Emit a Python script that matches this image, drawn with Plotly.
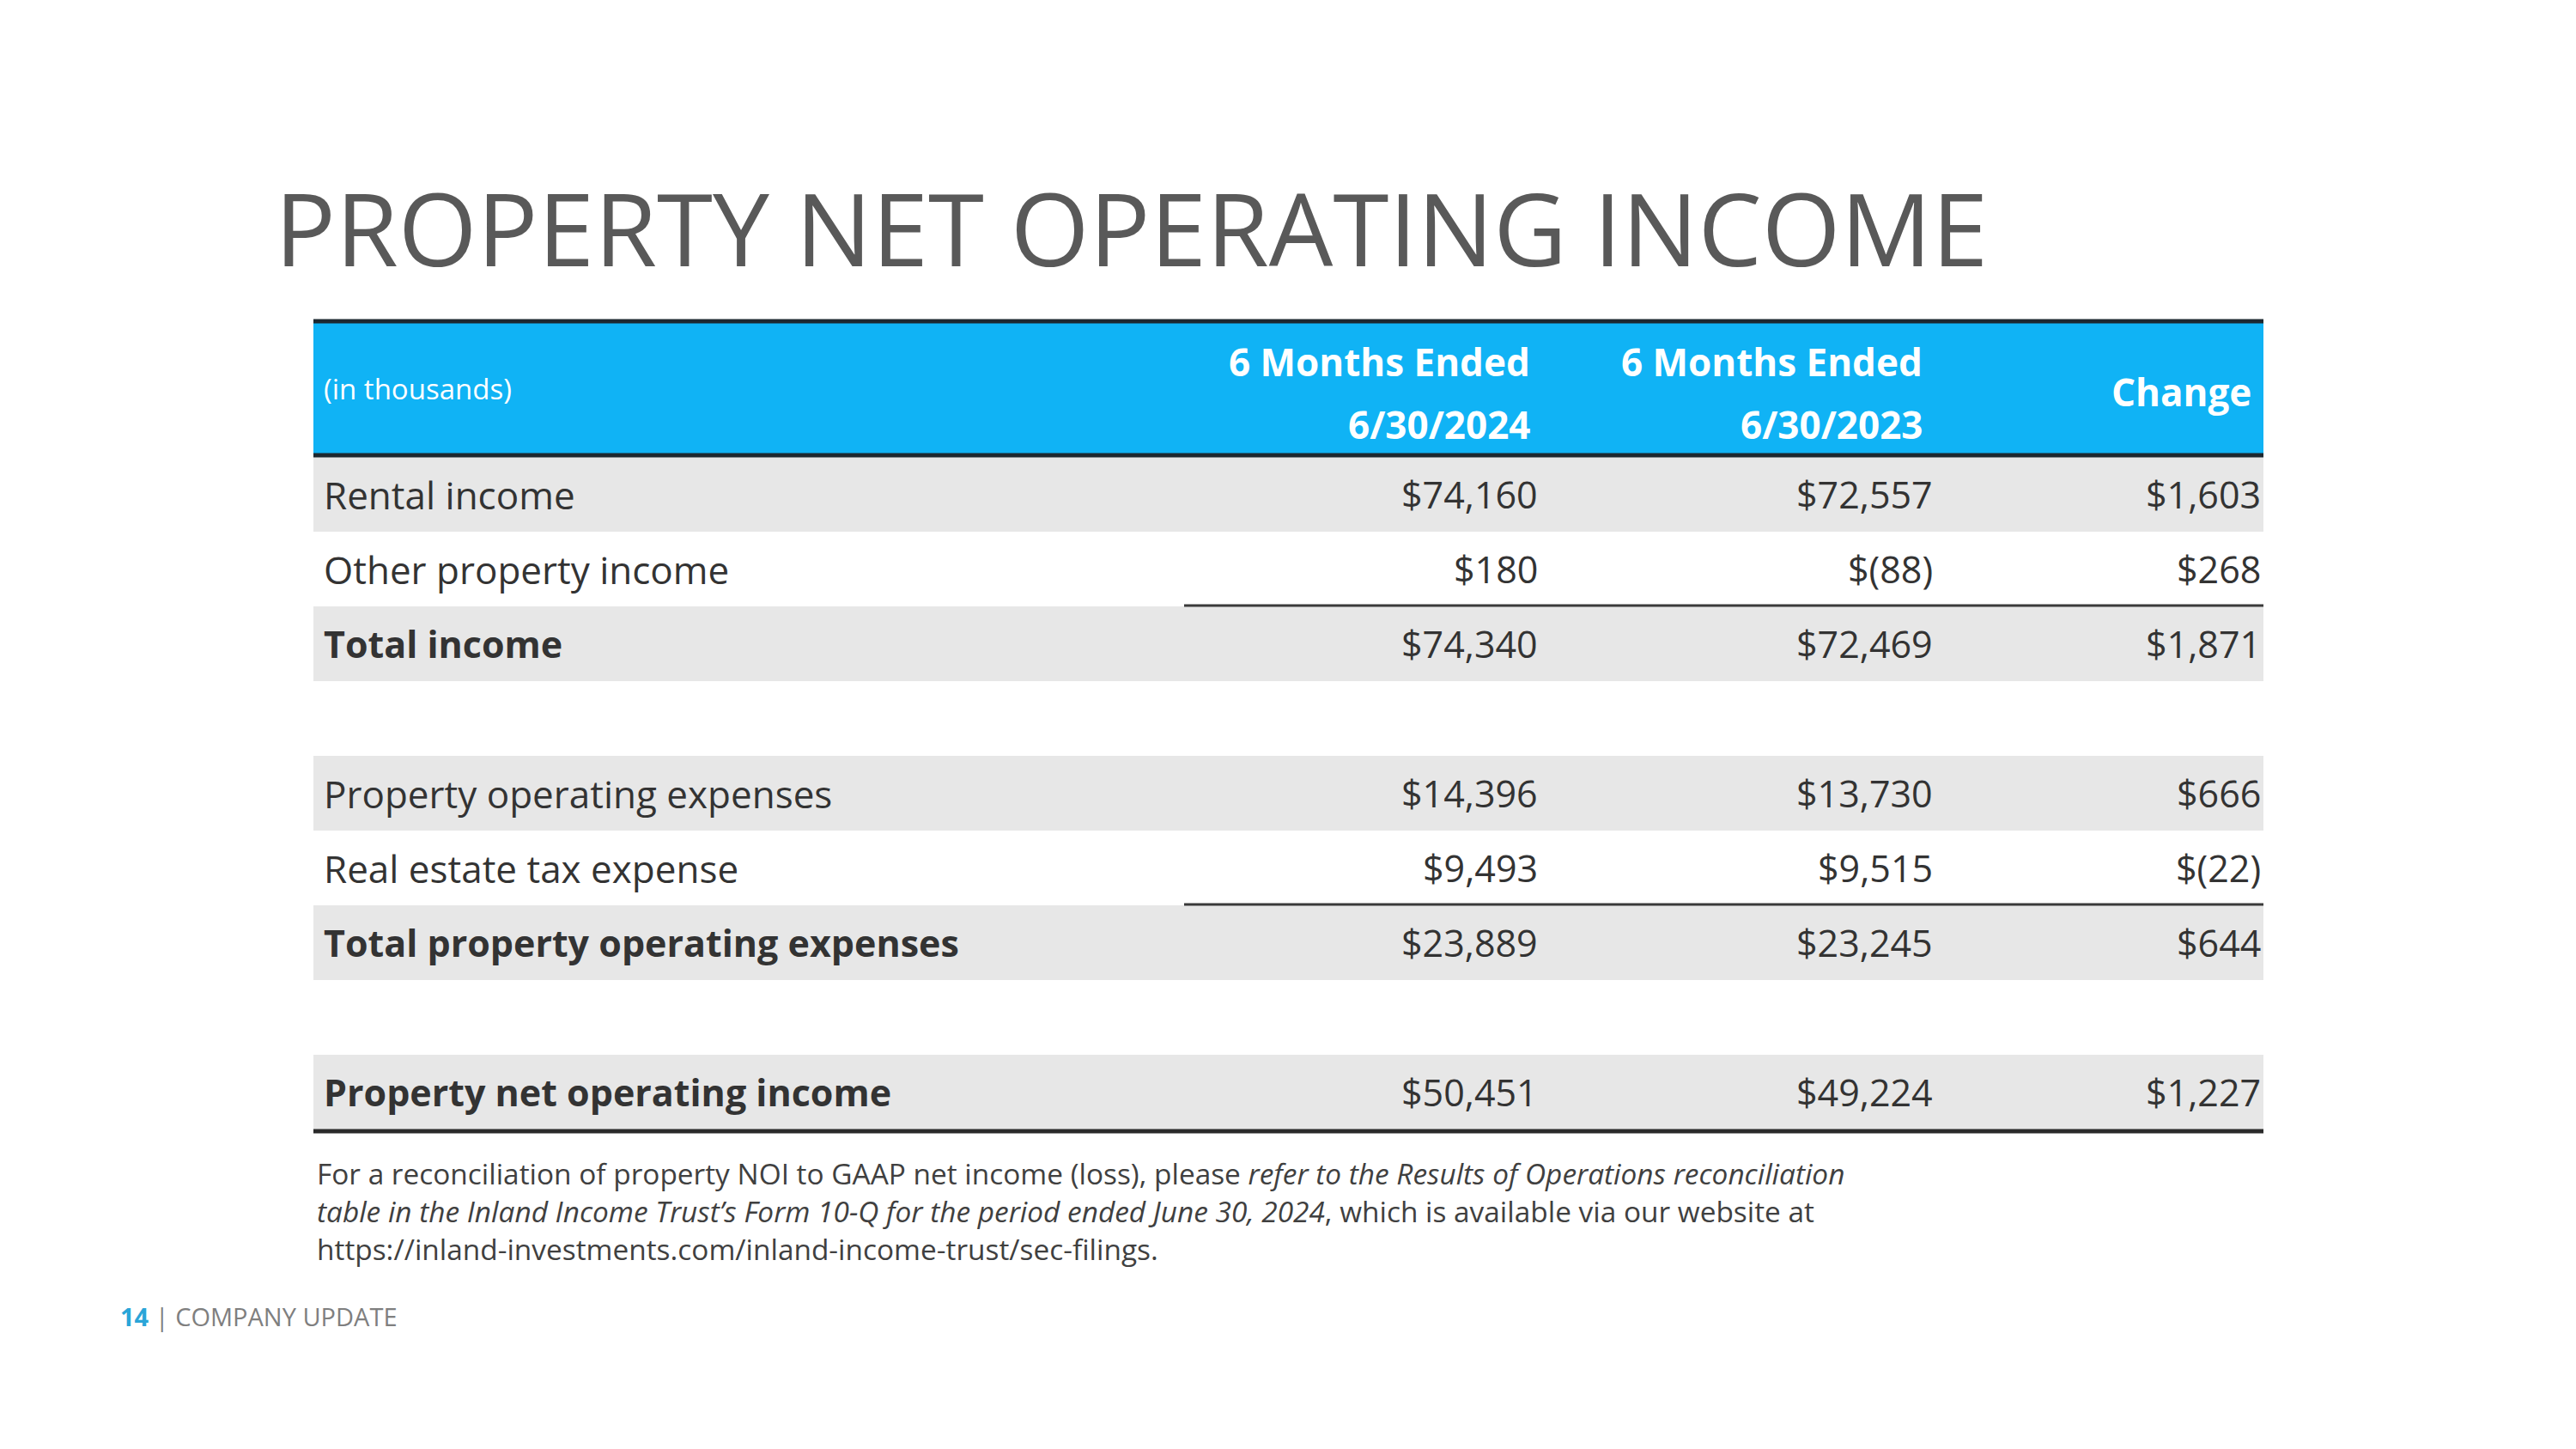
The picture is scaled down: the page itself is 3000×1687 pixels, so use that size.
import plotly.graph_objects as go

# ---------------- data ----------------
title_text = "PROPERTY NET OPERATING INCOME"
unit_label = "(in thousands)"
col_headers = ["6 Months Ended<br>6/30/2024", "6 Months Ended<br>6/30/2023", "Change"]

row_labels = [
    "Rental income",
    "Other property income",
    "Total income",
    "",
    "Property operating expenses",
    "Real estate tax expense",
    "Total property operating expenses",
    "",
    "Property net operating income",
]
vals_2024 = [74160, 180, 74340, None, 14396, 9493, 23889, None, 50451]
vals_2023 = [72557, -88, 72469, None, 13730, 9515, 23245, None, 49224]
vals_change = [1603, 268, 1871, None, 666, -22, 644, None, 1227]
bold_rows = [2, 6, 8]
underline_before_rows = [2, 6]

footnote_lines = [
    "For a reconciliation of property NOI to GAAP net income (loss), please <i>refer to the Results of Operations reconciliation</i>",
    "<i>table in the Inland Income Trust’s Form 10-Q for the period ended June 30, 2024</i>, which is available via our website at",
    "https://inland-investments.com/inland-income-trust/sec-filings.",
]
page_number = "14"
footer_text = "| COMPANY UPDATE"

# ---------------- layout constants ----------------
W, H = 3000, 1687
OFF = 8  # page body margin compensation
FONT = "Open Sans"
BLUE = "#10b3f5"
GRAY_ROW = "#e7e7e7"
TEXT = "#333333"
RULE = "#1d2830"

tbl_left, tbl_right = 365, 2636
tbl_top = 373
hdr_top, hdr_bottom = 376, 528
row0_top = 532
row_h = 87.0
label_x = 375
num_right = [1793, 2253, 2635]
hdr_right = [1784, 2241, 2624]


def fmt(v):
    if v is None:
        return ""
    if v < 0:
        return f"$({-v:,})"
    return f"${v:,}"


fig = go.Figure()
fig.add_trace(go.Scatter(x=[OFF, W], y=[OFF, H], mode="markers",
                         marker=dict(opacity=0), hoverinfo="skip", showlegend=False))

shapes = []
annotations = []

# header band
shapes.append(dict(type="rect", xref="x", yref="y", x0=tbl_left, x1=tbl_right,
                   y0=hdr_top, y1=hdr_bottom, fillcolor=BLUE, line=dict(width=0), layer="below"))
# rows
n = len(row_labels)
for i in range(n):
    y0 = row0_top + i * row_h
    y1 = y0 + row_h
    yc = (y0 + y1) / 2
    if i % 2 == 0:
        shapes.append(dict(type="rect", xref="x", yref="y", x0=tbl_left, x1=tbl_right,
                           y0=y0, y1=y1, fillcolor=GRAY_ROW, line=dict(width=0), layer="below"))
    if row_labels[i]:
        bold = i in bold_rows
        lab = f"<b>{row_labels[i]}</b>" if bold else row_labels[i]
        annotations.append(dict(x=label_x, y=yc, xref="x", yref="y", text=lab, showarrow=False,
                                xanchor="left", yanchor="middle",
                                font=dict(family=FONT, size=43 if bold else 44, color=TEXT)))
    for j, series in enumerate([vals_2024, vals_2023, vals_change]):
        t = fmt(series[i])
        if t:
            annotations.append(dict(x=num_right[j], y=yc, xref="x", yref="y", text=t, showarrow=False,
                                    xanchor="right", yanchor="middle",
                                    font=dict(family=FONT, size=43, color=TEXT)))
    if i in underline_before_rows:
        shapes.append(dict(type="line", xref="x", yref="y", x0=1379, x1=tbl_right,
                           y0=y0 - 1, y1=y0 - 1, line=dict(color="#3a3a3a", width=3)))

# thick rules
shapes.append(dict(type="line", xref="x", yref="y", x0=tbl_left, x1=tbl_right,
                   y0=tbl_top + 1, y1=tbl_top + 1, line=dict(color=RULE, width=5)))
shapes.append(dict(type="line", xref="x", yref="y", x0=tbl_left, x1=tbl_right,
                   y0=hdr_bottom + 2, y1=hdr_bottom + 2, line=dict(color=RULE, width=5)))
tbl_bottom = row0_top + n * row_h
shapes.append(dict(type="line", xref="x", yref="y", x0=tbl_left, x1=tbl_right,
                   y0=tbl_bottom + 2, y1=tbl_bottom + 2, line=dict(color="#2a2a2a", width=5)))

# header texts
annotations.append(dict(x=label_x, y=(hdr_top + hdr_bottom) / 2, xref="x", yref="y", text=unit_label,
                        showarrow=False, xanchor="left", yanchor="middle",
                        font=dict(family=FONT, size=33, color="white")))
for j, h in enumerate(col_headers):
    lines = h.split("<br>")
    if len(lines) == 2:
        for k, ln in enumerate(lines):
            annotations.append(dict(x=hdr_right[j], y=[421, 494][k], xref="x", yref="y",
                                    text=f"<b>{ln}</b>", showarrow=False, xanchor="right", yanchor="middle",
                                    font=dict(family=FONT, size=44, color="white")))
    else:
        annotations.append(dict(x=hdr_right[j], y=456, xref="x", yref="y",
                                text=f"<b>{h}</b>", showarrow=False, xanchor="right", yanchor="middle",
                                font=dict(family=FONT, size=44, color="white")))

# title
annotations.append(dict(x=318, y=264, xref="x", yref="y", text=title_text, showarrow=False,
                        xanchor="left", yanchor="middle",
                        font=dict(family=FONT, size=118, color="#595959")))

# footnote
for k, ln in enumerate(footnote_lines):
    annotations.append(dict(x=367, y=1366 + k * 44, xref="x", yref="y", text=ln, showarrow=False,
                            xanchor="left", yanchor="middle",
                            font=dict(family=FONT, size=33.4, color="#404040")))

# footer
annotations.append(dict(x=138, y=1532, xref="x", yref="y",
                        text=f"<span style='color:#2aa5d8'><b>{page_number}</b></span> {footer_text}",
                        showarrow=False, xanchor="left", yanchor="middle",
                        font=dict(family=FONT, size=29, color="#7f7f7f")))

fig.update_layout(
    width=W, height=H, margin=dict(l=0, r=0, t=0, b=0),
    paper_bgcolor="white", plot_bgcolor="white",
    xaxis=dict(range=[OFF, W + OFF], visible=False, fixedrange=True),
    yaxis=dict(range=[H + OFF, OFF], visible=False, fixedrange=True),
    shapes=shapes, annotations=annotations, showlegend=False,
)

fig.write_html("out.html")
